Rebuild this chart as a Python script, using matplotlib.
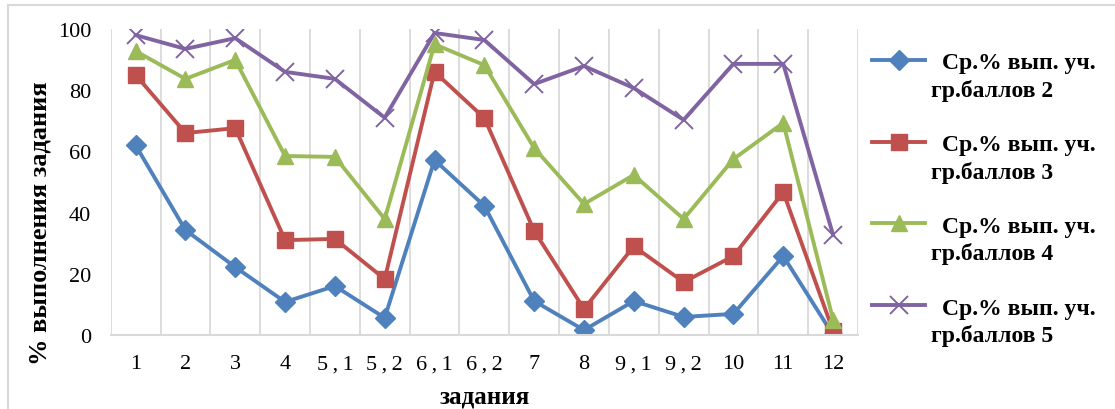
import numpy as np
import matplotlib
matplotlib.use("Agg")
import matplotlib.pyplot as plt
from matplotlib.lines import Line2D

tasks = ["1", "2", "3", "4", "5\u2009,\u20091", "5\u2009,\u20092", "6\u2009,\u20091",
         "6\u2009,\u20092", "7", "8", "9\u2009,\u20091", "9\u2009,\u20092", "10", "11", "12"]
grp2 = [62, 34.3, 22.2, 10.8, 16, 5.6, 57.2, 42.2, 11.1, 1.6, 11.1, 5.9, 6.9, 25.8, 0]
grp3 = [85, 66, 67.6, 31, 31.4, 18.3, 86, 70.9, 34, 8.5, 29, 17.3, 25.8, 46.7, 1.3]
grp4 = [92.8, 83.7, 89.9, 58.5, 58.2, 37.9, 95, 88.2, 61.1, 42.8, 52.3, 37.9, 57.5, 69.3, 5]
grp5 = [98, 93.5, 97, 86, 83.7, 71, 98.7, 96.4, 82, 87.9, 80.7, 70.3, 88.6, 88.6, 32.7]
name_line1 = "Ср.% вып. уч."
name_line2 = ["гр.баллов 2", "гр.баллов 3", "гр.баллов 4", "гр.баллов 5"]

plt.rcParams['font.family'] = ['Liberation Serif', 'DejaVu Serif']

W, H = 1115, 410
fig = plt.figure(figsize=(W / 100, H / 100), dpi=100)
ax = fig.add_axes([110.7 / W, 1 - 336 / H, (858 - 110.7) / W, 306 / H])

x = np.arange(len(tasks))
styles = [
    dict(color='#4F81BD', marker='D', markersize=10),
    dict(color='#C0504D', marker='s', markersize=11),
    dict(color='#9BBB59', marker='^', markersize=12),
    dict(color='#8064A2', marker='x', markersize=13, markeredgewidth=1.4),
]
for vals, st in zip([grp2, grp3, grp4, grp5], styles):
    ax.plot(x, vals, linewidth=2.8, **st)

ax.set_xlim(-0.5, len(tasks) - 0.5)
ax.set_ylim(0, 100)
ax.set_yticks(np.arange(0, 101, 20))
ax.set_xticks(x)
ax.set_xticklabels(tasks)
ax.set_xticks(np.arange(-0.5, len(tasks)), minor=True)
ax.grid(True, which='minor', axis='x', color='#D9D9D9', linewidth=1.3)
ax.tick_params(which='both', length=0)
ax.tick_params(axis='y', labelsize=16, pad=14)
ax.tick_params(axis='x', labelsize=16, pad=14)
for s in ['top', 'right', 'left']:
    ax.spines[s].set_visible(False)
ax.spines['bottom'].set_color('#D9D9D9')
ax.spines['bottom'].set_linewidth(1.5)

ax.set_xlabel("задания", fontsize=18, fontweight='bold', labelpad=8)
fig.text(40 / W, 1 - 223 / H, "% выполнения задания", rotation=90,
         fontsize=19, fontweight='bold', ha='center', va='center')

# legend drawn by hand: marker line level with the first text line
for i, st in enumerate(styles):
    yy = 1 - (61 + 81.7 * i) / H
    fig.add_artist(Line2D([872 / W, 898.5 / W, 925 / W], [yy, yy, yy],
                          linewidth=2.8, markevery=[1], transform=fig.transFigure, **st))
    fig.text(942 / W, 1 - (64 + 81.7 * i) / H, name_line1, fontsize=17,
             fontweight='bold', ha='left', va='center')
    fig.text(931 / W, 1 - (91 + 81.7 * i) / H, name_line2[i], fontsize=17,
             fontweight='bold', ha='left', va='center')

# chart area frame
fig.add_artist(Line2D([8 / W, 8 / W], [0, 1 - 6 / H], color='#D9D9D9',
                      linewidth=1.5, transform=fig.transFigure))
fig.add_artist(Line2D([8 / W, 1], [1 - 6 / H, 1 - 6 / H], color='#D9D9D9',
                      linewidth=1.5, transform=fig.transFigure))

fig.savefig("out.png", dpi=100)
